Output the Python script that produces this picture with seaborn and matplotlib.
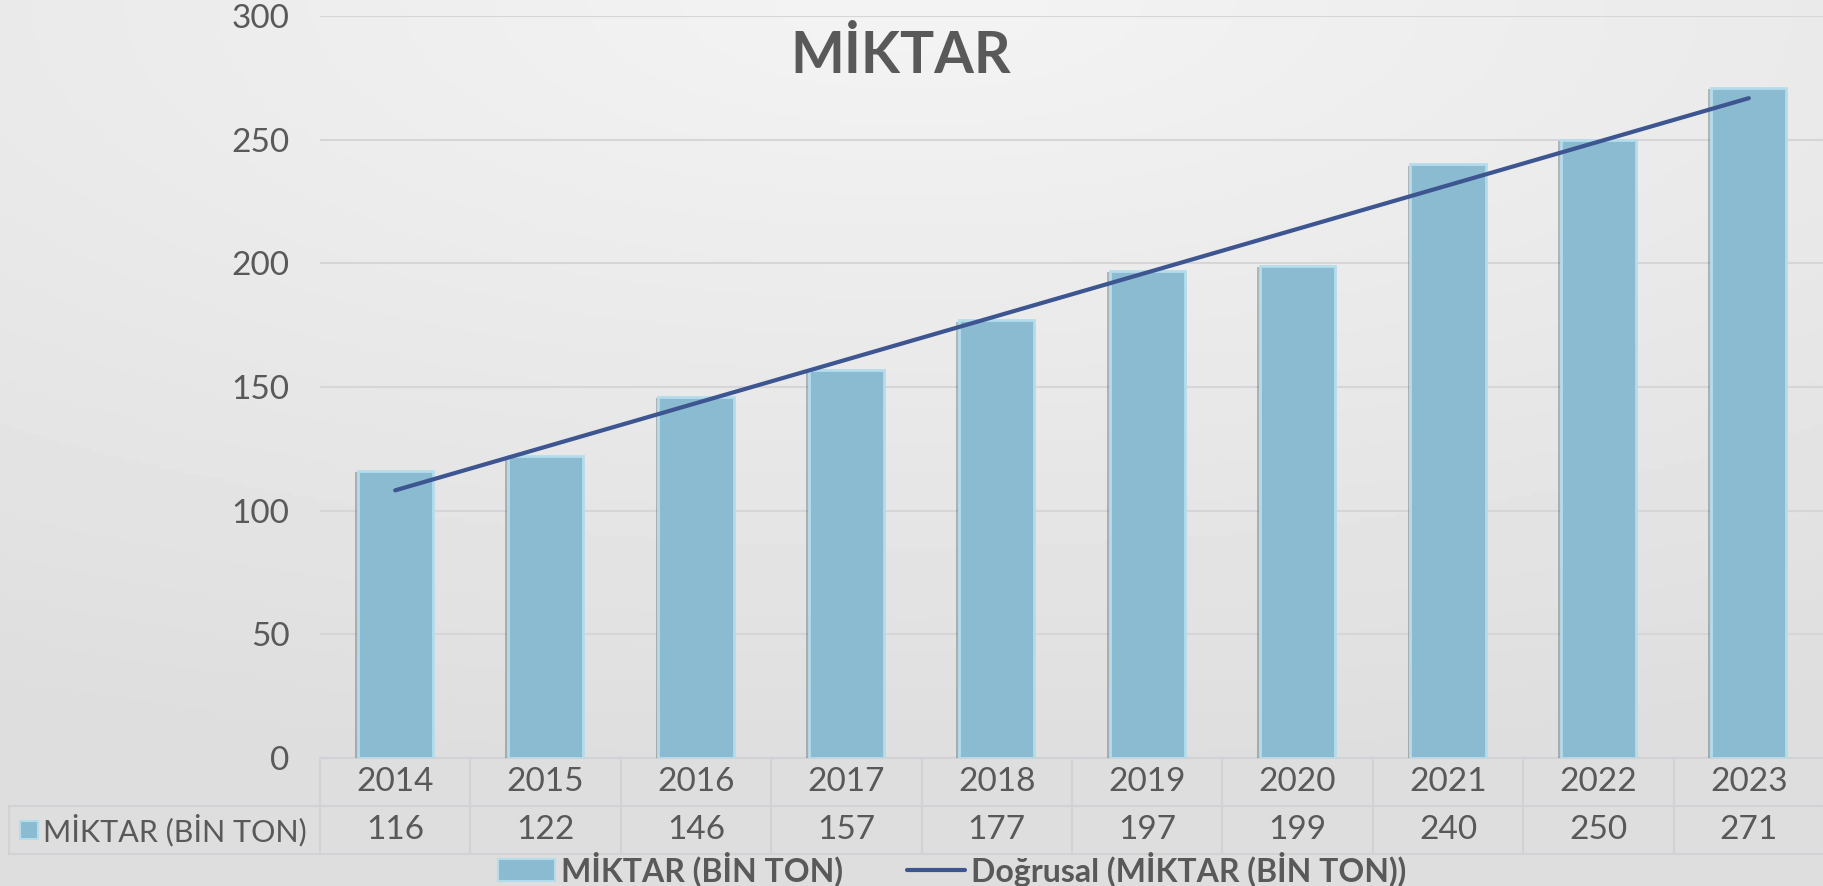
import numpy as np
import pandas as pd
import matplotlib
matplotlib.use("Agg")
import matplotlib.pyplot as plt
import matplotlib.patheffects as pe
from matplotlib.patches import Rectangle
from matplotlib.lines import Line2D
import matplotlib.transforms as mtransforms
import seaborn as sns

# veriler
years = ["2014", "2015", "2016", "2017", "2018", "2019", "2020", "2021", "2022", "2023"]
miktar = [116, 122, 146, 157, 177, 197, 199, 240, 250, 271]
series_name = "MİKTAR (BİN TON)"
trend_name = "Doğrusal (MİKTAR (BİN TON))"
title = "MİKTAR"

bar_color = "#8bbbd0"
edge_color = "#b4dceb"
trend_color = "#3d5590"
text_color = "#595959"
grid_color = "#d6d6d9"

sns.set_theme(style="white")
plt.rcParams['font.family'] = ['Lato', 'DejaVu Sans']

fig = plt.figure(figsize=(18.24, 8.86), dpi=100)

# arka plan gradyani (ustte acik, altta koyu)
bg = fig.add_axes([0, 0, 1, 1], zorder=-10)
yy, xx = np.mgrid[0:1:200j, 0:1:400j]
r = np.sqrt(((xx - 0.5) * 0.9) ** 2 + (yy * 1.15) ** 2)
bg.imshow(0.955 - 0.085 * np.clip(r, 0, 1), cmap="gray", vmin=0, vmax=1,
          extent=[0, 1, 0, 1], aspect="auto", origin="upper")
bg.axis("off")

ax = fig.add_axes([320 / 1824, 1 - 758 / 886, 1 - 320 / 1824, (758 - 16) / 886])
ax.patch.set_alpha(0)

df = pd.DataFrame({"yil": years, "miktar": miktar})
sns.barplot(data=df, x="yil", y="miktar", color=bar_color, width=0.5,
            saturation=1, edgecolor=edge_color, linewidth=2, ax=ax, zorder=3)
for p in ax.patches:
    p.set_path_effects([pe.SimplePatchShadow(offset=(-2, -1), alpha=0.3), pe.Normal()])

# dogrusal egilim cizgisi
x = np.arange(len(miktar))
slope, intercept = np.polyfit(x, miktar, 1)
ax.plot(x, slope * x + intercept, color=trend_color, lw=3, zorder=4,
        solid_capstyle="round")

ax.set_xlim(-0.5, len(years) - 0.5)
ax.set_ylim(0, 300)
ax.set_yticks(range(0, 301, 50))
ax.yaxis.grid(True, color=grid_color, lw=1.5)
ax.set_axisbelow(True)
ax.tick_params(axis="y", labelsize=24, labelcolor=text_color, pad=22, length=0)
ax.set_xticks([])
ax.set_xlabel("")
ax.set_ylabel("")
for s in ax.spines.values():
    s.set_visible(False)

ax.text(0.386, 0.945, title, transform=ax.transAxes, ha="center", va="center",
        fontsize=41, fontweight="bold", color=text_color)

# veri tablosu
trans = mtransforms.blended_transform_factory(ax.transData, fig.transFigure)
row1_top, row1_bot, row2_bot = 1 - 758 / 886, 1 - 806 / 886, 1 - 854 / 886
left_fig = 9 / 1824
lc = "#d2d2d6"
for i in range(len(years) + 1):
    ax.add_line(Line2D([i - 0.5, i - 0.5], [row1_top, row2_bot], transform=trans,
                       color=lc, lw=1.5, clip_on=False))
ax.add_line(Line2D([-0.5, len(years) - 0.5], [row1_top, row1_top], transform=trans,
                   color=lc, lw=1.5, clip_on=False))
fig.add_artist(Line2D([left_fig, 1], [row1_bot, row1_bot], color=lc, lw=1.5))
fig.add_artist(Line2D([left_fig, 1], [row2_bot, row2_bot], color=lc, lw=1.5))
fig.add_artist(Line2D([left_fig, left_fig], [row1_bot, row2_bot], color=lc, lw=1.5))

for i, (yr, v) in enumerate(zip(years, miktar)):
    ax.text(i, (row1_top + row1_bot) / 2, yr, transform=trans, ha="center",
            va="center", fontsize=24, color=text_color)
    ax.text(i, (row1_bot + row2_bot) / 2, str(v), transform=trans, ha="center",
            va="center", fontsize=24, color=text_color)

fig.add_artist(Rectangle((20 / 1824, 1 - 839 / 886), 18 / 1824, 18 / 886,
                         facecolor=bar_color, edgecolor=edge_color, lw=1.5))
fig.text(43 / 1824, (row1_bot + row2_bot) / 2, series_name, ha="left", va="center",
         fontsize=22, color=text_color)

# gosterge
handles = [Rectangle((0, 0), 1, 1, facecolor=bar_color, edgecolor=edge_color, lw=1.5),
           Line2D([0], [0], color=trend_color, lw=3)]
fig.legend(handles, [series_name, trend_name], loc="center",
           bbox_to_anchor=(952 / 1824, 1 - 869 / 886), ncol=2, frameon=False,
           prop={"size": 23, "weight": "bold"}, labelcolor=text_color,
           handlelength=1.8, handleheight=0.7, handletextpad=0.2, columnspacing=2.0,
           borderpad=0, borderaxespad=0)

fig.savefig("out.png", dpi=100)
